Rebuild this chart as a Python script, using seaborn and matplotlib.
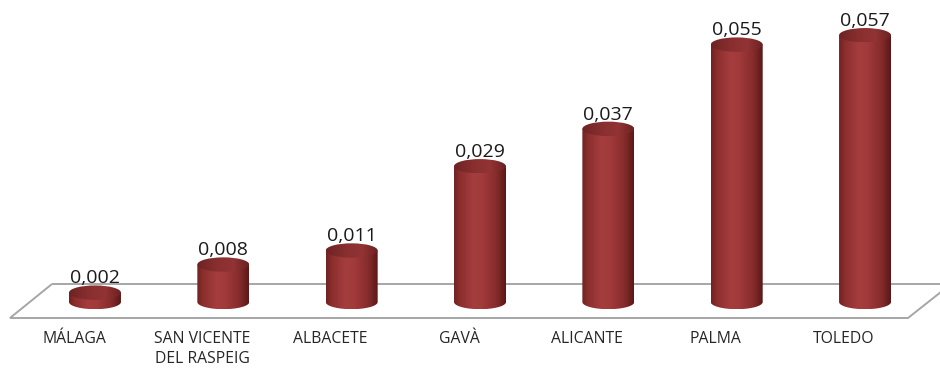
import numpy as np
import matplotlib
matplotlib.use("Agg")
import matplotlib.pyplot as plt
import seaborn as sns
from matplotlib.patches import Polygon, Ellipse, PathPatch
from matplotlib.path import Path
from matplotlib.colors import LinearSegmentedColormap
from matplotlib.transforms import ScaledTranslation

# Data
cities = ["MÁLAGA", "SAN VICENTE\nDEL RASPEIG", "ALBACETE", "GAVÀ",
          "ALICANTE", "PALMA", "TOLEDO"]
values = [0.002, 0.008, 0.011, 0.029, 0.037, 0.055, 0.057]
value_labels = [f"{v:.3f}".replace(".", ",") for v in values]

sns.set_style("white")
plt.rcParams["font.family"] = ["Open Sans", "DejaVu Sans"]

W, H = 940, 370
fig = plt.figure(figsize=(W / 100, H / 100), dpi=100)
ax_bottom_px = 318  # plot area ends at the front edge of the floor
ax = fig.add_axes([0, 1 - ax_bottom_px / H, 1, ax_bottom_px / H])

# Bars through seaborn, later replaced by shaded cylinders
sns.barplot(x=cities, y=values, ax=ax, width=0.405, color="#9b3535")

ax.set_xlim(-0.740, 6.584)
ax.set_ylim(-0.00342, 0.06453)
for s in ax.spines.values():
    s.set_visible(False)
ax.set_yticks([])
ax.set_ylabel("")
ax.set_xticks(range(len(cities)))
ax.set_xticklabels(cities, fontsize=11.3, color="#262626", linespacing=1.3)
ax.tick_params(axis="x", length=0, pad=9.5)
# category labels sit on the front edge of the floor, shifted left by perspective
shift = ScaledTranslation(-21 / 100, 0, fig.dpi_scale_trans)
for lbl in ax.get_xticklabels():
    lbl.set_transform(lbl.get_transform() + shift)

# pixel -> data conversion for the ellipse depth
y_per_px = (ax.get_ylim()[1] - ax.get_ylim()[0]) / ax_bottom_px
ry = 7.2 * y_per_px

# Perspective floor
def fp(px, py):
    return (px / W, 1 - py / ax_bottom_px)

floor = Polygon([fp(52, 284), fp(951, 284), fp(908, 318), fp(10, 318)],
                closed=True, fill=False, edgecolor="#a6a6a6", lw=1.4,
                transform=ax.transAxes, clip_on=False, zorder=0)
ax.add_patch(floor)

body_cmap = LinearSegmentedColormap.from_list(
    "body", [(0.0, "#702222"), (0.12, "#8c2e2e"), (0.38, "#a53d3e"),
             (0.55, "#a13a3b"), (0.82, "#862b2b"), (1.0, "#5a1818")])
top_cmap = LinearSegmentedColormap.from_list(
    "top", [(0.0, "#6e2323"), (0.4, "#8a2f30"), (0.7, "#923334"), (1.0, "#6c2121")])

grad = np.linspace(0, 1, 256).reshape(1, -1)

bars = list(ax.patches)
for bar, lab in zip(bars, value_labels):
    x0, w, h = bar.get_x(), bar.get_width(), bar.get_height()
    bar.set_visible(False)
    cx, rx = x0 + w / 2, w / 2

    t = np.linspace(np.pi, 2 * np.pi, 80)
    verts = [(cx + rx * np.cos(a), ry * np.sin(a)) for a in t]
    verts += [(cx + rx, h), (cx - rx, h), (cx - rx, 0)]
    body = PathPatch(Path(verts), facecolor="none", edgecolor="none", zorder=2)
    ax.add_patch(body)
    im = ax.imshow(grad, cmap=body_cmap, extent=[cx - rx, cx + rx, -ry, h],
                   aspect="auto", zorder=2, interpolation="bilinear")
    im.set_clip_path(body)

    top = Ellipse((cx, h), 2 * rx, 2 * ry, facecolor="none",
                  edgecolor="none", zorder=3)
    ax.add_patch(top)
    im2 = ax.imshow(grad, cmap=top_cmap, extent=[cx - rx, cx + rx, h - ry, h + ry],
                    aspect="auto", zorder=3, interpolation="bilinear")
    im2.set_clip_path(top)

    ax.annotate(lab, (cx, h + ry), xytext=(0, 1.5), textcoords="offset points",
                ha="center", va="baseline", fontsize=14, color="#1a1a1a", zorder=4)

ax.set_xlim(-0.740, 6.584)
ax.set_ylim(-0.00342, 0.06453)

fig.savefig("out.png", dpi=100, facecolor="white")
